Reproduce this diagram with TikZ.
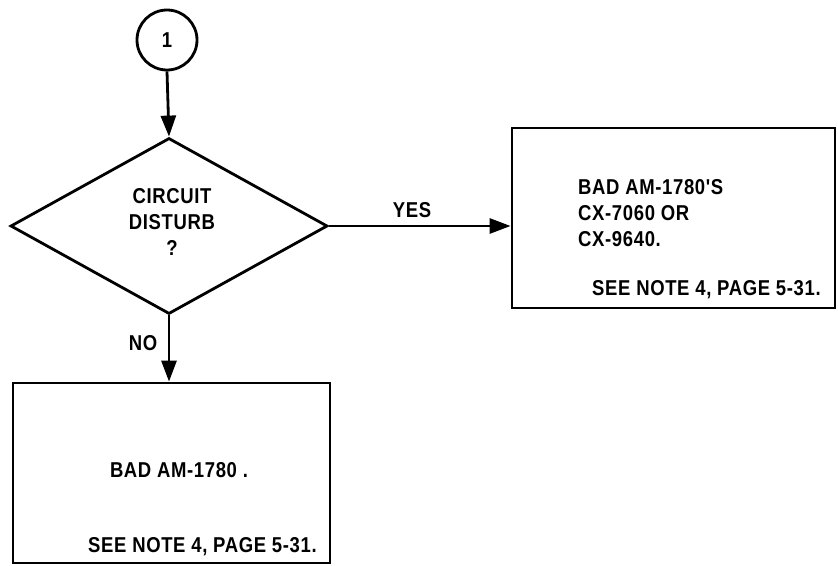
\documentclass[tikz,border=0pt]{standalone}
\usepackage{fontspec}
\setmainfont{Liberation Sans}[FakeStretch=0.86, LetterSpace=3, Ligatures=TeXOff]
\usetikzlibrary{shapes.geometric,arrows.meta}
\tikzset{
  line/.style={line width=2.8pt},
  flow/.style={line, -{Triangle[length=21pt,width=15pt]}},
  txt/.style={font=\bfseries\fontsize{21.5}{26}\selectfont, inner sep=0pt},
  boxed/.style={draw, line width=2.8pt, inner sep=0pt},
}
\begin{document}
\begin{tikzpicture}[x=1pt,y=-1pt]
\useasboundingbox (0,0) rectangle (838,565);
% connector circle
\node[draw, line, circle, minimum size=60pt, inner sep=0pt, txt] (c1) at (167,40) {1};
% decision
\node[draw, line, diamond, minimum width=317pt, minimum height=176pt, inner sep=0pt] (d) at (169,226) {};
\node[txt, align=center] (dt) at (172,222) {CIRCUIT\\DISTURB\\?};
% right box
\node[boxed, minimum width=323pt, minimum height=180pt] (r) at (673.5,218) {};
\node[txt, align=left, anchor=west] (rt) at (578,213.5) {BAD AM-1780'S\\CX-7060 OR\\CX-9640.};
\node[txt, anchor=base west] (rn) at (592,295) {SEE NOTE 4, PAGE 5-31.};
% bottom box
\node[boxed, minimum width=317pt, minimum height=180pt] (b) at (171.5,473) {};
\node[txt, anchor=base] (bt) at (179,477) {BAD AM-1780 .};
\node[txt, anchor=base west] (bn) at (88,552) {SEE NOTE 4, PAGE 5-31.};
% connectors
\draw[flow] (c1.south) -- (d.north);
\draw[flow] (d.east) -- (r.west |- d.east);
\draw[flow] (d.south) -- (b.north -| d.south);
% labels
\node[txt] (yes) at (412,210) {YES};
\node[txt] (no) at (143,343) {NO};
\end{tikzpicture}
\end{document}
